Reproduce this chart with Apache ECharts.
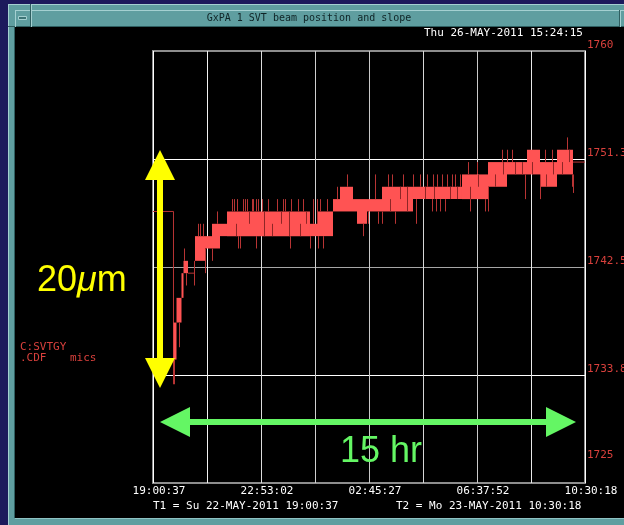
<!DOCTYPE html>
<html>
<head>
<meta charset="utf-8">
<script src="https://cdn.jsdelivr.net/npm/echarts@6/dist/echarts.min.js"></script>
<style>
  html, body { margin: 0; padding: 0; background: #1c1a5c; }
  #chart { width: 624px; height: 525px; }
</style>
</head>
<body>
<div id="chart"></div>
<script>
// ---- Time axis: seconds since T1 (Su 22-MAY-2011 19:00:37) to T2 (Mo 23-MAY-2011 10:30:18)
const T_SPAN_S = 55781;
const X_TICK_LABELS = ['19:00:37', '22:53:02', '02:45:27', '06:37:52', '10:30:18'];

// ---- Vertical scale (mics)
const Y_FLOOR = 1725;
const Y_CEIL = 1760;
const Y_TICK_LABELS = ['1725', '1733.8', '1742.5', '1751.3', '1760'];

// ---- Dense readout bands: hours since T1, lower / upper readout level (mics)
const BAND_START = [0.735, 0.843, 1.022, 1.094, 1.506, 1.865, 2.116, 2.403, 2.654, 5.631, 5.882, 6.456,
                    6.707, 7.174, 7.317, 7.676, 8.214, 9.325, 11.083, 12.015, 12.697, 13.414, 13.881, 14.490];
const BAND_END   = [0.843, 1.022, 1.094, 1.255, 1.865, 2.116, 2.403, 2.654, 5.631, 5.882, 6.456, 6.707,
                    7.174, 7.317, 7.676, 8.214, 9.325, 11.083, 12.015, 12.697, 13.414, 13.881, 14.490, 15.064];
const BAND_LOW   = [1735, 1738, 1740, 1742, 1743, 1744, 1744, 1745, 1745, 1745, 1745, 1747,
                    1747, 1747, 1746, 1747, 1747, 1748, 1748, 1749, 1750, 1750, 1749, 1750];
const BAND_HIGH  = [1738, 1740, 1742, 1743, 1745, 1745, 1746, 1746, 1747, 1746, 1747, 1748,
                    1749, 1748, 1748, 1748, 1749, 1749, 1750, 1751, 1751, 1752, 1751, 1752];

// ---- Single excursions beyond the band: hours since T1, lower / upper end (mics)
const SPIKE_TIME = [0.753, 0.943, 1.112, 1.184, 1.488, 1.603, 1.686, 1.783, 1.865, 2.105, 2.285,
                    2.823, 2.905, 3.024, 3.049, 3.120, 3.217, 3.300, 3.382, 3.540, 3.587, 3.684,
                    3.694, 3.777, 3.910, 4.136, 4.437, 4.663, 4.734, 4.914, 4.950, 5.212, 5.380,
                    5.631, 5.750, 5.871, 5.918, 5.990, 6.108, 6.230, 6.589, 6.948, 7.543, 7.722,
                    7.962, 8.081, 8.203, 8.440, 8.572, 8.680, 8.967, 9.337, 9.433, 9.579, 9.817,
                    10.000, 10.043, 10.150, 10.197, 10.294, 10.355, 10.473, 10.534, 10.724,
                    10.832, 11.011, 11.309, 11.370, 11.610, 11.908, 12.026, 12.507, 12.686,
                    12.866, 13.343, 13.881, 14.060, 14.300, 14.838, 15.017, 15.075];
const SPIKE_LOW  = [1733, 1736, 1743, 1741, 1741, 1745, 1745, 1745, 1742, 1743, 1746,
                    1747, 1747, 1747, 1744, 1744, 1747, 1747, 1747, 1747, 1747, 1747,
                    1744, 1747, 1747, 1747, 1747, 1747, 1747, 1744, 1747, 1747, 1747,
                    1744, 1746, 1746, 1744, 1747, 1744, 1747, 1748, 1749, 1745, 1746,
                    1748, 1746, 1746, 1749, 1749, 1746, 1749, 1749, 1746, 1749, 1749,
                    1747, 1749, 1747, 1749, 1747, 1749, 1747, 1749, 1749,
                    1749, 1749, 1750, 1747, 1750, 1747, 1747, 1751, 1751,
                    1751, 1748, 1748, 1751, 1751, 1752, 1749, 1748.5];
const SPIKE_HIGH = [1735, 1738, 1744, 1742, 1743, 1746, 1746, 1746, 1744, 1744, 1747,
                    1748, 1748, 1748, 1745, 1745, 1748, 1748, 1748, 1748, 1748, 1748,
                    1745, 1748, 1748, 1748, 1748, 1748, 1748, 1745, 1748, 1748, 1748,
                    1745, 1748, 1748, 1745, 1748, 1745, 1748, 1749, 1750, 1746, 1747,
                    1750, 1747, 1747, 1750, 1750, 1747, 1750, 1750, 1748, 1750, 1750,
                    1748, 1750, 1748, 1750, 1748, 1750, 1748, 1750, 1750,
                    1750, 1750, 1751, 1748, 1751, 1748, 1749, 1752, 1752,
                    1752, 1750, 1750, 1752, 1752, 1753, 1750, 1750];

// ---- Sparse stretches inside the bands (readout sat on one level): hours, lower / upper (mics)
const SLIT_TIME = [2.977, 3.443, 3.981, 4.268, 4.591, 4.878, 5.272, 5.488, 8.501, 8.859, 9.110,
                   9.756, 10.079, 10.652, 10.904, 11.370, 11.657, 12.267, 12.554, 12.984, 13.235,
                   13.594, 14.096, 14.347, 14.670, 14.921];
const SLIT_LOW   = [1745, 1746, 1745, 1745, 1746, 1745, 1745, 1746, 1747, 1748, 1747,
                    1748, 1748, 1748, 1748, 1748, 1749, 1749, 1750, 1750, 1750,
                    1750, 1749, 1750, 1750, 1751];
const SLIT_HIGH  = [1746, 1747, 1747, 1746, 1747, 1747, 1746, 1747, 1748, 1749, 1749,
                    1749, 1749, 1749, 1749, 1749, 1750, 1750, 1751, 1751, 1751,
                    1751, 1750, 1751, 1751, 1752];

// ---- Held readouts: stale value before start, short plateau, tail to the end of the window
const HOLD_START_T = [0, 0.735, 0.735];
const HOLD_START_V = [1747, 1747, 1733];
const HOLD_MID_T = [1.255, 1.506];
const HOLD_MID_V = [1742, 1742];
const HOLD_END_T = [15.064, 15.495];
const HOLD_END_V = [1751, 1751];

// ---- Helpers: hours -> axis seconds, mics -> height above the floor
const toSec = h => h * 3600;
const toAxis = v => v - Y_FLOOR;
const X_STEP = T_SPAN_S / 8;
const Y_STEP = (Y_CEIL - Y_FLOOR) / 4;

const MONO = '"DejaVu Sans Mono", "Liberation Mono", monospace';
const TRACE = '#ff5353';
const TRACE_DARK = '#b83434';
const SLIT = '#8e2626';
const LABEL_RED = '#d8403c';

const bandData = BAND_START.map((s, i) => [toSec(s), toSec(BAND_END[i]), toAxis(BAND_LOW[i]), toAxis(BAND_HIGH[i])]);
const spikeData = SPIKE_TIME.map((t, i) => [toSec(t), toAxis(SPIKE_LOW[i]), toAxis(SPIKE_HIGH[i])]);
const slitData = SLIT_TIME.map((t, i) => [toSec(t), toAxis(SLIT_LOW[i]), toAxis(SLIT_HIGH[i])]);
const holdLine = (ts, vs) => ts.map((t, i) => [toSec(t), toAxis(vs[i])]);

function holdSeries(ts, vs) {
  return {
    type: 'line', data: holdLine(ts, vs), symbol: 'none', silent: true,
    lineStyle: { color: TRACE_DARK, width: 1 }, z: 3
  };
}

// vertical 1px strokes between two levels at one instant
function strokeSeries(name, data, color, z) {
  return {
    type: 'custom', name: name, silent: true, z: z,
    data: data,
    encode: { x: 0, y: [1, 2] },
    renderItem: (params, api) => {
      const a = api.coord([api.value(0), api.value(1)]);
      const b = api.coord([api.value(0), api.value(2)]);
      const x = Math.round(a[0]) + 0.5;
      return { type: 'line', shape: { x1: x, y1: a[1], x2: x, y2: b[1] }, style: { stroke: color, lineWidth: 1 } };
    }
  };
}

const chart = echarts.init(document.getElementById('chart'), null, { renderer: 'canvas', width: 624, height: 525 });

const T = (x, y, text, fill, extra) => Object.assign({
  type: 'text', x: x, y: y, z: 100,
  style: Object.assign({ text: text, fill: fill, font: '11px ' + MONO, align: 'left', verticalAlign: 'middle' }, extra || {})
});
const R = (x, y, w, h, fill, z) => ({ type: 'rect', shape: { x: x, y: y, width: w, height: h }, style: { fill: fill }, z: z });

const LIGHT = '#a4d0d1';
const TEAL = '#5f9ea0';
const DARK = '#2e5e60';

const option = {
  backgroundColor: '#1c1a5c',
  animation: false,
  grid: {
    left: 153, top: 51, width: 432, height: 432,
    outerBoundsMode: 'none', containLabel: false,
    show: true, backgroundColor: 'transparent', borderColor: '#8e8e8e', borderWidth: 2
  },
  xAxis: {
    type: 'value', min: 0, max: T_SPAN_S, interval: X_STEP,
    axisLine: { show: false }, axisTick: { show: false },
    splitLine: {
      show: true, showMinLine: true, showMaxLine: true,
      lineStyle: { width: 1, color: ['#ffffff', '#f2f2f2', '#dcdcdc', '#cfcfcf', '#c8c8c8', '#d6d6d6', '#cacaca', '#e8e8e8', '#ffffff'] }
    },
    axisLabel: {
      color: '#ffffff', fontFamily: MONO, fontSize: 11, margin: 3, padding: [0, 0, 0, 12],
      formatter: v => {
        const i = Math.round(v / X_STEP);
        return i % 2 === 0 ? X_TICK_LABELS[i / 2] : '';
      }
    }
  },
  yAxis: {
    type: 'value', position: 'right', min: 0, max: Y_CEIL - Y_FLOOR, interval: Y_STEP,
    axisLine: { show: false }, axisTick: { show: false },
    splitLine: {
      show: true, showMinLine: false, showMaxLine: false,
      lineStyle: { width: 1, color: ['#ffffff', '#a6a6a6', '#ffffff'] }
    },
    axisLabel: {
      color: LABEL_RED, fontFamily: MONO, fontSize: 11, margin: 2, align: 'left', verticalAlign: 'bottom',
      formatter: v => {
        const i = Math.round(v / Y_STEP);
        return i === 0 ? '{lo|' + Y_TICK_LABELS[0] + '}' : Y_TICK_LABELS[i];
      },
      rich: { lo: { color: LABEL_RED, fontFamily: MONO, fontSize: 11, padding: [0, 0, 22, 0] } }
    }
  },
  series: [
    {
      type: 'custom', name: 'band', silent: true, z: 4,
      data: bandData,
      encode: { x: [0, 1], y: [2, 3] },
      renderItem: (params, api) => {
        const a = api.coord([api.value(0), api.value(3)]);
        const b = api.coord([api.value(1), api.value(2)]);
        return { type: 'rect', shape: { x: a[0], y: a[1], width: b[0] - a[0], height: b[1] - a[1] }, style: { fill: TRACE } };
      }
    },
    strokeSeries('slits', slitData, SLIT, 5),
    strokeSeries('spikes', spikeData, TRACE_DARK, 5),
    holdSeries(HOLD_START_T, HOLD_START_V),
    holdSeries(HOLD_MID_T, HOLD_MID_V),
    holdSeries(HOLD_END_T, HOLD_END_V)
  ],
  graphic: [
    // window frame
    R(8, 4, 616, 521, TEAL, -20),
    R(8, 4, 616, 1, LIGHT, -19),
    R(8, 4, 1, 521, LIGHT, -19),
    R(15, 10, 609, 1, LIGHT, -19),
    R(15, 26, 609, 1, DARK, -19),
    R(15, 10, 1, 17, LIGHT, -19),
    R(30, 4, 1, 23, DARK, -19),
    R(31, 4, 1, 23, LIGHT, -19),
    R(8, 26, 7, 1, DARK, -19),
    R(619, 10, 1, 17, DARK, -19),
    R(620, 10, 1, 17, LIGHT, -19),
    { type: 'rect', shape: { x: 18.5, y: 16.5, width: 8, height: 3 }, style: { fill: '#3d7476', stroke: LIGHT, lineWidth: 1 }, z: -18 },
    R(15, 27, 609, 491, '#000000', -18),
    R(15, 518, 609, 1, '#8ec2c3', -18),
    R(14, 27, 1, 491, DARK, -18),
    // captions
    T(309, 18.5, 'GxPA 1 SVT beam position and slope', '#0f2426', { font: '10px ' + MONO, align: 'center' }),
    T(424, 33, 'Thu 26-MAY-2011 15:24:15', '#ffffff'),
    T(153, 506, 'T1 = Su 22-MAY-2011 19:00:37', '#ffffff'),
    T(396, 506, 'T2 = Mo 23-MAY-2011 10:30:18', '#ffffff'),
    T(20, 347, 'C:SVTGY', LABEL_RED),
    T(20, 358, '.CDF', LABEL_RED),
    T(70, 358, 'mics', LABEL_RED),
    // scale markers
    {
      type: 'polygon', z: 100,
      shape: { points: [[160, 150], [175, 180], [163, 180], [163, 358], [175, 358], [160, 388], [145, 358], [157, 358], [157, 180], [145, 180]] },
      style: { fill: '#ffff00' }
    },
    {
      type: 'polygon', z: 100,
      shape: { points: [[160, 422], [190, 407], [190, 419], [546, 419], [546, 407], [576, 422], [546, 437], [546, 425], [190, 425], [190, 437]] },
      style: { fill: '#64f664' }
    },
    {
      type: 'text', x: 37, y: 281, z: 100,
      style: {
        text: '{n|20}{mu|\u03bc}{n|m}', verticalAlign: 'middle', align: 'left',
        rich: {
          n: { fill: '#ffff00', fontSize: 36, fontFamily: '"Liberation Sans", Arial, sans-serif' },
          mu: { fill: '#ffff00', fontSize: 36, fontStyle: 'italic', fontFamily: '"Liberation Sans", Arial, sans-serif' }
        }
      }
    },
    {
      type: 'text', x: 340, y: 452, z: 100,
      style: { text: '15 hr', fill: '#64f664', fontSize: 36, fontFamily: '"Liberation Sans", Arial, sans-serif', verticalAlign: 'middle', align: 'left' }
    }
  ]
};

chart.setOption(option);
</script>
</body>
</html>
